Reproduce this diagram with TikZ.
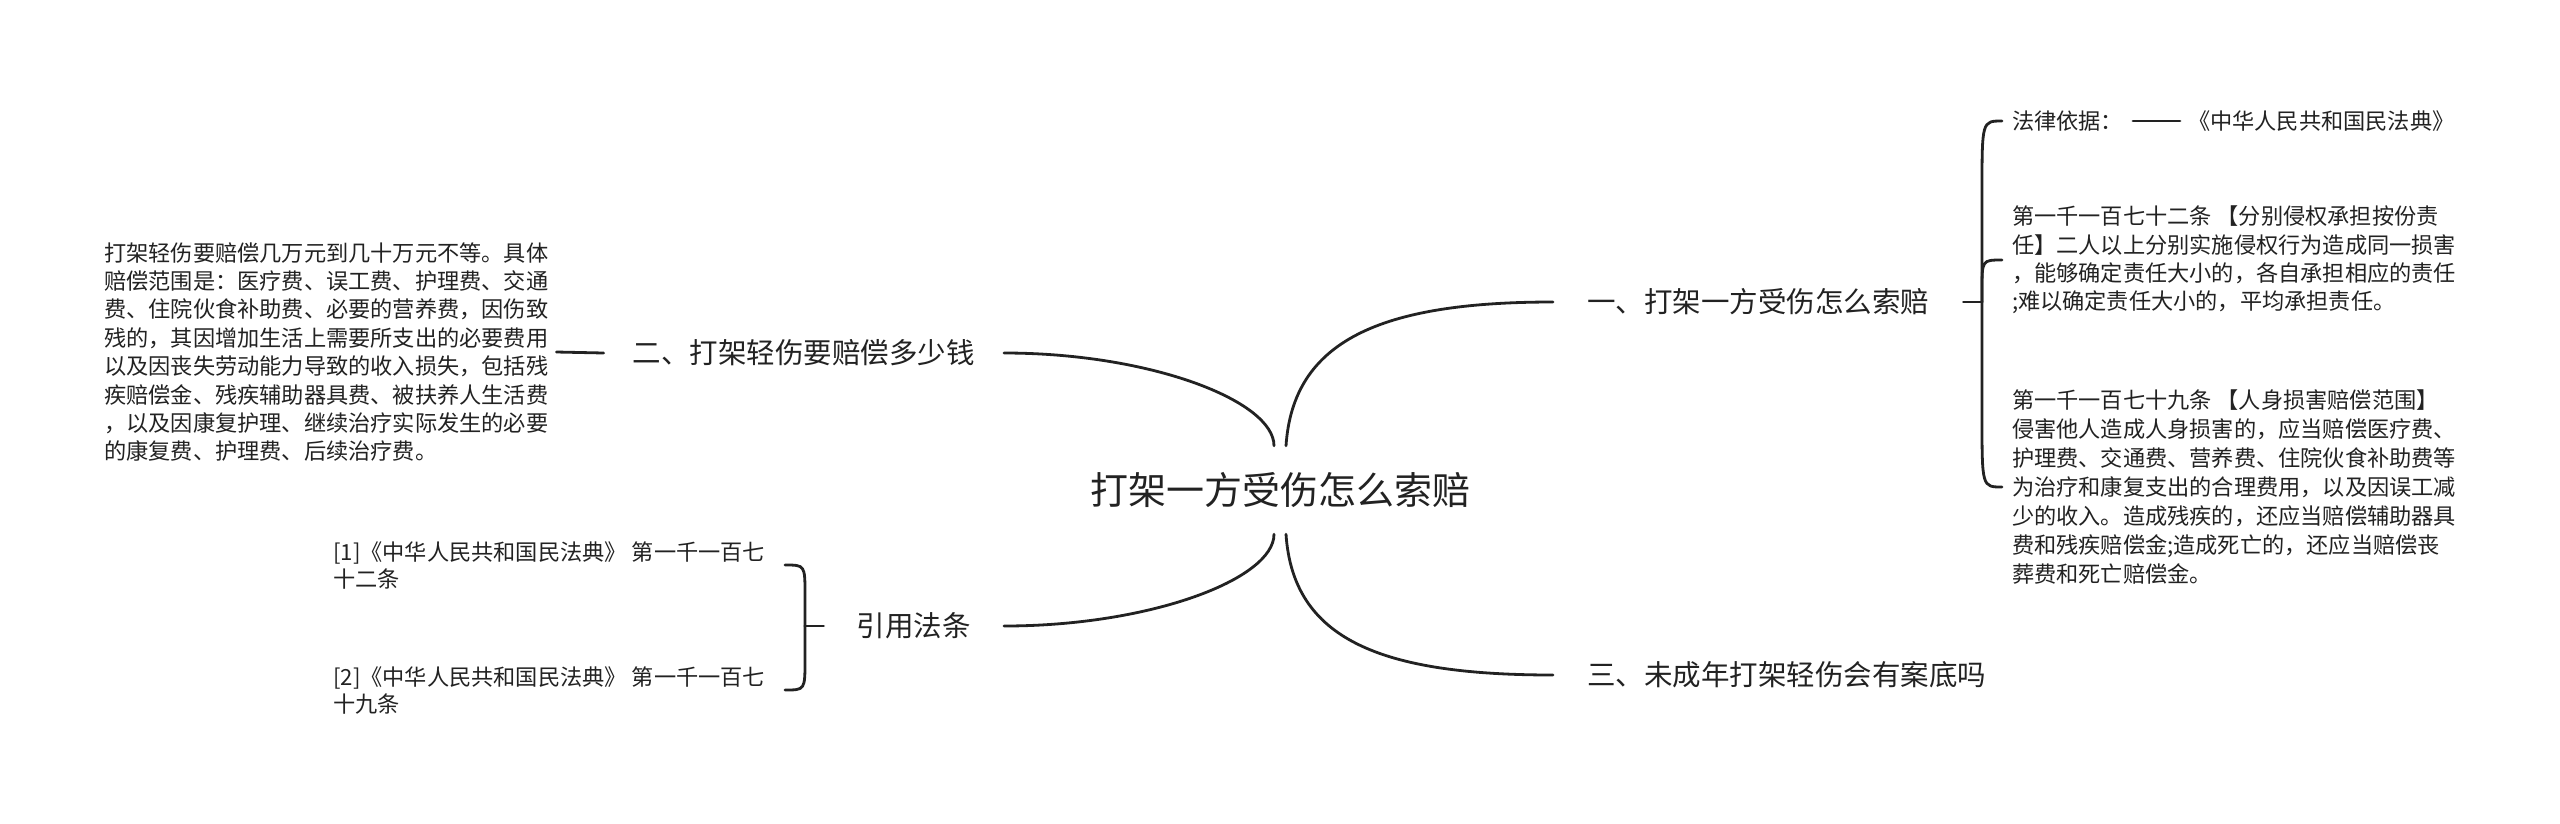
\documentclass[tikz,border=0pt]{standalone}
\usepackage{fontspec}
\newfontfamily\cjk{Noto Sans CJK SC}
\usetikzlibrary{calc}
\definecolor{ink}{RGB}{34,34,34}
\begin{document}
\begin{tikzpicture}[x=1pt,y=-1pt,
  conn/.style={draw=ink, line width=2.8pt, line cap=round},
  rootnode/.style={font=\cjk\fontsize{38}{44}\selectfont, text=ink, minimum height=88pt, inner xsep=0pt},
  branchnode/.style={font=\cjk\fontsize{28.5}{34}\selectfont, text=ink, inner ysep=4pt},
  smalltext/.style={font=\cjk\fontsize{22.2}{28.4}\selectfont, text=ink, align=left, inner sep=0pt}
]
\fill[white] (0,0) rectangle (2560,823);
\useasboundingbox (0,0) rectangle (2560,823);

% root
\node[rootnode] (c) at (1280,490) {打架一方受伤怎么索赔};

% branches
\node[branchnode, anchor=west, inner xsep=34pt] (n1) at (1553,302) {一、打架一方受伤怎么索赔};
\node[branchnode, anchor=west, inner xsep=34pt] (n3) at (1553,675) {三、未成年打架轻伤会有案底吗};
\node[branchnode, anchor=east, inner xsep=29pt] (n2) at (1004,353) {二、打架轻伤要赔偿多少钱};
\node[branchnode, anchor=east, inner xsep=33pt] (n4) at (1004,626) {引用法条};

% main curves
\draw[conn] ([xshift=6pt]c.north) .. controls +(7,-105) and +(-173,0) .. (n1.west);
\draw[conn] ([xshift=6pt]c.south) .. controls +(7,105) and +(-173,0) .. (n3.west);
\draw[conn] ([xshift=-6pt]c.north) .. controls +(0,-45) and +(146,0) .. (n2.east);
\draw[conn] ([xshift=-6pt]c.south) .. controls +(0,45) and +(146,0) .. (n4.east);

% left paragraph
\node[smalltext, anchor=west, text width=452pt] (para) at (104,352) {打架轻伤要赔偿几万元到几十万元不等。具体\\
赔偿范围是：医疗费、误工费、护理费、交通\\
费、住院伙食补助费、必要的营养费，因伤致\\
残的，其因增加生活上需要所支出的必要费用\\
以及因丧失劳动能力导致的收入损失，包括残\\
疾赔偿金、残疾辅助器具费、被扶养人生活费\\
，以及因康复护理、继续治疗实际发生的必要\\
的康复费、护理费、后续治疗费。};
\draw[conn] (para.east) -- (n2.west);

% references
\node[smalltext, font=\cjk\fontsize{22.2}{27}\selectfont, anchor=west] (ref1) at (333,565) {[1]《中华人民共和国民法典》 第一千一百七\\十二条};
\node[smalltext, font=\cjk\fontsize{22.2}{27}\selectfont, anchor=west] (ref2) at (333,690) {[2]《中华人民共和国民法典》 第一千一百七\\十九条};
\coordinate (lb) at (805,626);
\draw[conn] (n4.west) -- (lb);
\draw[conn] (lb) -- ($(lb |- ref1.west)+(0,30)$) .. controls (lb |- ref1.west) .. ($(ref1.west)+(452,0)$);
\draw[conn] (lb) -- ($(lb |- ref2.west)+(0,-30)$) .. controls (lb |- ref2.west) .. ($(ref2.west)+(452,0)$);

% right side
\coordinate (rb) at (1982,302);
\draw[conn] (n1.east) -- (rb);
\node[smalltext, anchor=west, outer xsep=10pt] (flaw) at (2002,121) {法律依据：};
\node[smalltext, anchor=west, outer xsep=8pt] (law) at (2180,121) {《中华人民共和国民法典》};
\draw[conn] (flaw.east) -- (law.west);

\node[smalltext, anchor=west, outer xsep=10pt] (b2) at (2002,260) {第一千一百七十二条 【分别侵权承担按份责\\
任】二人以上分别实施侵权行为造成同一损害\\
，能够确定责任大小的，各自承担相应的责任\\
;难以确定责任大小的，平均承担责任。};

\node[smalltext, font=\cjk\fontsize{22.2}{29}\selectfont, anchor=west, outer xsep=10pt] (b3) at (2002,487) {第一千一百七十九条 【人身损害赔偿范围】\\
侵害他人造成人身损害的，应当赔偿医疗费、\\
护理费、交通费、营养费、住院伙食补助费等\\
为治疗和康复支出的合理费用，以及因误工减\\
少的收入。造成残疾的，还应当赔偿辅助器具\\
费和残疾赔偿金;造成死亡的，还应当赔偿丧\\
葬费和死亡赔偿金。};

\draw[conn] (rb) -- ($(rb |- flaw.west)+(0,70)$) .. controls (rb |- flaw.west) .. (flaw.west);
\draw[conn] (rb) -- ($(rb |- b2.west)+(0,30)$) .. controls (rb |- b2.west) .. (b2.west);
\draw[conn] (rb) -- ($(rb |- b3.west)+(0,-70)$) .. controls (rb |- b3.west) .. (b3.west);
\end{tikzpicture}
\end{document}
